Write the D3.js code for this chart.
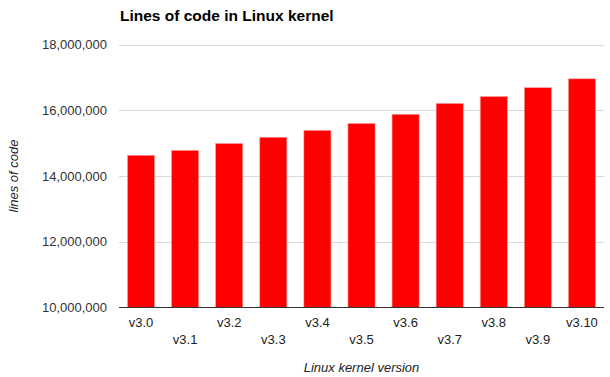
<!DOCTYPE html>
<html>
<head>
<meta charset="utf-8">
<script src="https://cdn.jsdelivr.net/npm/d3@7"></script>
<style>
  html, body { margin: 0; padding: 0; background: #fff; }
  svg { display: block; font-family: "Liberation Sans", Arial, sans-serif; }
</style>
</head>
<body>
<svg id="chart" width="610" height="377"></svg>
<script>
const categories = ["v3.0","v3.1","v3.2","v3.3","v3.4","v3.5","v3.6","v3.7","v3.8","v3.9","v3.10"];
const linesOfCode = [14630000,14780000,14990000,15180000,15390000,15600000,15880000,16210000,16420000,16690000,16960000];
const yTicks = [10000000,12000000,14000000,16000000,18000000];
const title = "Lines of code in Linux kernel";
const xTitle = "Linux kernel version";
const yTitle = "lines of code";

(function () {
const svg = d3.select("#chart");
const pLeft = 119, pRight = 604, pTop = 44.7, pBottom = 307.3;

const x = d3.scaleBand().domain(categories).range([pLeft, pRight]).paddingInner(0.386).paddingOuter(0.193);
const y = d3.scaleLinear().domain([10000000, 18000000]).range([pBottom, pTop]);
const fmt = d3.format(",");

// gridlines
svg.append("g").selectAll("line").data(yTicks.filter(d => d !== 10000000)).join("line")
  .attr("x1", pLeft).attr("x2", pRight)
  .attr("y1", d => Math.round(y(d)) + 0.5).attr("y2", d => Math.round(y(d)) + 0.5)
  .attr("stroke", "#d9d9d9").attr("stroke-width", 1);

// y axis labels
const yAxis = d3.axisLeft(y).tickValues(yTicks).tickFormat(fmt).tickSize(0).tickPadding(12);
const yg = svg.append("g").attr("transform", `translate(${pLeft},0)`).call(yAxis);
yg.select(".domain").remove();
yg.selectAll("text").attr("font-size", 13).attr("fill", "#333").attr("font-family", "Liberation Sans, Arial, sans-serif");

// bars
svg.append("g").selectAll("rect").data(categories).join("rect")
  .attr("x", d => x(d))
  .attr("width", x.bandwidth())
  .attr("y", (d, i) => y(linesOfCode[i]))
  .attr("height", (d, i) => y(10000000) - y(linesOfCode[i]))
  .attr("fill", "#ff0000")
  .attr("stroke", "#ff9a9a").attr("stroke-width", 0.6);

// x axis
const xAxis = d3.axisBottom(x).tickSize(0).tickPadding(0);
const xg = svg.append("g").attr("transform", `translate(0,${Math.round(pBottom) + 0.5})`).call(xAxis);
xg.select(".domain").attr("stroke", "#333").attr("d", `M${pLeft},0H${pRight}`);
xg.selectAll("text")
  .attr("font-size", 13).attr("fill", "#222").attr("font-family", "Liberation Sans, Arial, sans-serif")
  .attr("dy", null)
  .attr("y", (d, i) => i % 2 === 0 ? 19 : 36);

// title
svg.append("text").attr("x", 120).attr("y", 21)
  .attr("font-size", 15.5).attr("font-weight", "bold").attr("fill", "#000")
  .text(title);

// axis titles
svg.append("text").attr("x", (pLeft + pRight) / 2).attr("y", 372)
  .attr("text-anchor", "middle").attr("font-size", 13).attr("font-style", "italic").attr("fill", "#222")
  .text(xTitle);
svg.append("text").attr("transform", `translate(18,${(pTop + pBottom) / 2}) rotate(-90)`)
  .attr("text-anchor", "middle").attr("font-size", 13).attr("font-style", "italic").attr("fill", "#222")
  .text(yTitle);
})();
</script>
</body>
</html>
